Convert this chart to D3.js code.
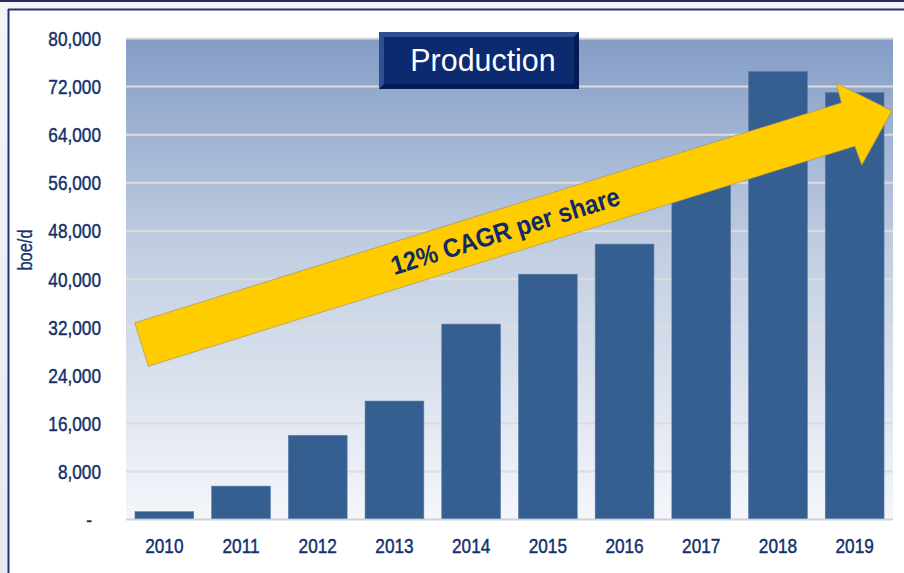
<!DOCTYPE html>
<html>
<head>
<meta charset="utf-8">
<script src="https://cdn.jsdelivr.net/npm/d3@7"></script>
<style>
  html, body { margin: 0; padding: 0; background: #eef1f6; }
  #chart { width: 904px; height: 573px; }
</style>
</head>
<body>
<div id="chart"></div>
<script>
// Data
const years = ["2010", "2011", "2012", "2013", "2014", "2015", "2016", "2017", "2018", "2019"];
const production = [1300, 5550, 14000, 19700, 32500, 40800, 45800, 60000, 74500, 71000];
const yTicks = [0, 8000, 16000, 24000, 32000, 40000, 48000, 56000, 64000, 72000, 80000];
const chartTitle = "Production";
const yLabel = "boe/d";
const arrowText = "12% CAGR per share";

const width = 904, height = 573;
const plot = { left: 126, right: 893, top: 38.5, bottom: 519.5 };
const navy = "#12306b";
const font = "'Liberation Sans', Arial, sans-serif";
const squeeze = 0.82; // no Arial Narrow here, so compress the regular face

const svg = d3.select("#chart").append("svg")
  .attr("width", width)
  .attr("height", height);

const defs = svg.append("defs");
const bg = defs.append("linearGradient").attr("id", "plotBg")
  .attr("x1", 0).attr("y1", 0).attr("x2", 0).attr("y2", 1);
bg.append("stop").attr("offset", "0%").attr("stop-color", "#849dc6");
bg.append("stop").attr("offset", "45%").attr("stop-color", "#c3cfe2");
bg.append("stop").attr("offset", "100%").attr("stop-color", "#f4f6fb");

const side = defs.append("linearGradient").attr("id", "sideBg")
  .attr("x1", 0).attr("y1", 0).attr("x2", 0).attr("y2", 1);
side.append("stop").attr("offset", "0%").attr("stop-color", "#f4f5f9");
side.append("stop").attr("offset", "100%").attr("stop-color", "#e6e9f1");

// page frame
svg.append("rect").attr("width", width).attr("height", height).attr("fill", "url(#sideBg)");
svg.append("rect").attr("x", 0).attr("y", 0).attr("width", width).attr("height", 2).attr("fill", "#2b2d5c");
svg.append("rect").attr("x", 9).attr("y", 10).attr("width", width - 9).attr("height", height - 10).attr("fill", "#fff");
svg.append("line").attr("x1", 8).attr("x2", width).attr("y1", 9.5).attr("y2", 9.5)
  .attr("stroke", "#1d3678").attr("stroke-width", 2);
svg.append("line").attr("x1", 8.5).attr("x2", 8.5).attr("y1", 9).attr("y2", height)
  .attr("stroke", "#1d3678").attr("stroke-width", 2);

// Scales
const x = d3.scaleBand()
  .domain(years)
  .range([plot.left, plot.right])
  .paddingInner(0.234)
  .paddingOuter(0.117);

const y = d3.scaleLinear()
  .domain([0, 80000])
  .range([plot.bottom, plot.top]);

// plot area
svg.append("rect")
  .attr("x", plot.left).attr("y", plot.top)
  .attr("width", plot.right - plot.left).attr("height", plot.bottom - plot.top)
  .attr("fill", "url(#plotBg)");

svg.selectAll(".grid-line")
  .data(yTicks)
  .enter()
  .append("line")
  .attr("class", "grid-line")
  .attr("x1", plot.left)
  .attr("x2", plot.right)
  .attr("y1", (d) => y(d))
  .attr("y2", (d) => y(d))
  .attr("stroke", (d) => (d === 0 ? "#d2d2d2" : "#dcdcdc"))
  .attr("stroke-width", 2);

// Bars
svg.selectAll(".bar")
  .data(production)
  .enter()
  .append("rect")
  .attr("class", "bar")
  .attr("x", (d, i) => x(years[i]))
  .attr("y", (d) => y(d))
  .attr("width", x.bandwidth())
  .attr("height", (d) => y(0) - 1 - y(d))
  .attr("fill", "#355f91")
  .attr("stroke", "#5a7aa6")
  .attr("stroke-width", 0.6);

// y tick labels
svg.selectAll(".ytick")
  .data(yTicks)
  .enter()
  .append("text")
  .attr("class", "ytick")
  .attr("transform", (d) => `translate(${d === 0 ? 92 : 101},${y(d)}) scale(${squeeze},1)`)
  .attr("dy", "0.36em")
  .attr("text-anchor", "end")
  .attr("font-family", font)
  .attr("font-size", 21)
  .attr("fill", navy)
  .attr("stroke", navy)
  .attr("stroke-width", 0.45)
  .text((d) => (d === 0 ? "-" : d3.format(",")(d)));

// x labels
svg.selectAll(".xtick")
  .data(years)
  .enter()
  .append("text")
  .attr("class", "xtick")
  .attr("transform", (d) => `translate(${x(d) + x.bandwidth() / 2},553) scale(${squeeze},1)`)
  .attr("text-anchor", "middle")
  .attr("font-family", font)
  .attr("font-size", 21)
  .attr("fill", navy)
  .attr("stroke", navy)
  .attr("stroke-width", 0.45)
  .text((d) => d);

// y axis title
svg.append("text")
  .attr("transform", `translate(32,250) rotate(-90) scale(${squeeze},1)`)
  .attr("text-anchor", "middle")
  .attr("font-family", font)
  .attr("font-size", 20)
  .attr("fill", navy)
  .attr("stroke", navy)
  .attr("stroke-width", 0.3)
  .text(yLabel);

// title box
const tb = { x: 379, y: 32, w: 200, h: 57, b: 5 };
const title = svg.append("g");
title.append("rect").attr("x", tb.x).attr("y", tb.y).attr("width", tb.w).attr("height", tb.h).attr("fill", "#041a52");
title.append("path")
  .attr("d", `M${tb.x},${tb.y}H${tb.x + tb.w}L${tb.x + tb.w - tb.b},${tb.y + tb.b}H${tb.x + tb.b}V${tb.y + tb.h - tb.b}L${tb.x},${tb.y + tb.h}Z`)
  .attr("fill", "#2e4f92");
title.append("rect")
  .attr("x", tb.x + tb.b).attr("y", tb.y + tb.b)
  .attr("width", tb.w - 2 * tb.b).attr("height", tb.h - 2 * tb.b)
  .attr("fill", "#0b2a6f");
title.append("text")
  .attr("transform", `translate(${tb.x + tb.w / 2 + 4},${tb.y + 39}) scale(0.95,1)`)
  .attr("text-anchor", "middle")
  .attr("font-family", font)
  .attr("font-size", 32)
  .attr("fill", "#fff")
  .text(chartTitle);

// CAGR arrow
const arrow = svg.append("g").attr("transform", "translate(141.5,344.5) rotate(-17.3)");
const half = 22.75;
arrow.append("path")
  .attr("d", `M0,${-half}H740L741,-43L786,0L741,43L740,${half}H0Z`)
  .attr("fill", "#ffcc00")
  .attr("stroke", "#9c9160")
  .attr("stroke-opacity", 0.6)
  .attr("stroke-width", 1)
  .attr("stroke-linejoin", "round");
arrow.append("text")
  .attr("transform", "translate(381,9) scale(0.9,1)")
  .attr("text-anchor", "middle")
  .attr("font-family", font)
  .attr("font-weight", "bold")
  .attr("font-size", 26.5)
  .attr("fill", "#0f2a66")
  .text(arrowText);
</script>
</body>
</html>
